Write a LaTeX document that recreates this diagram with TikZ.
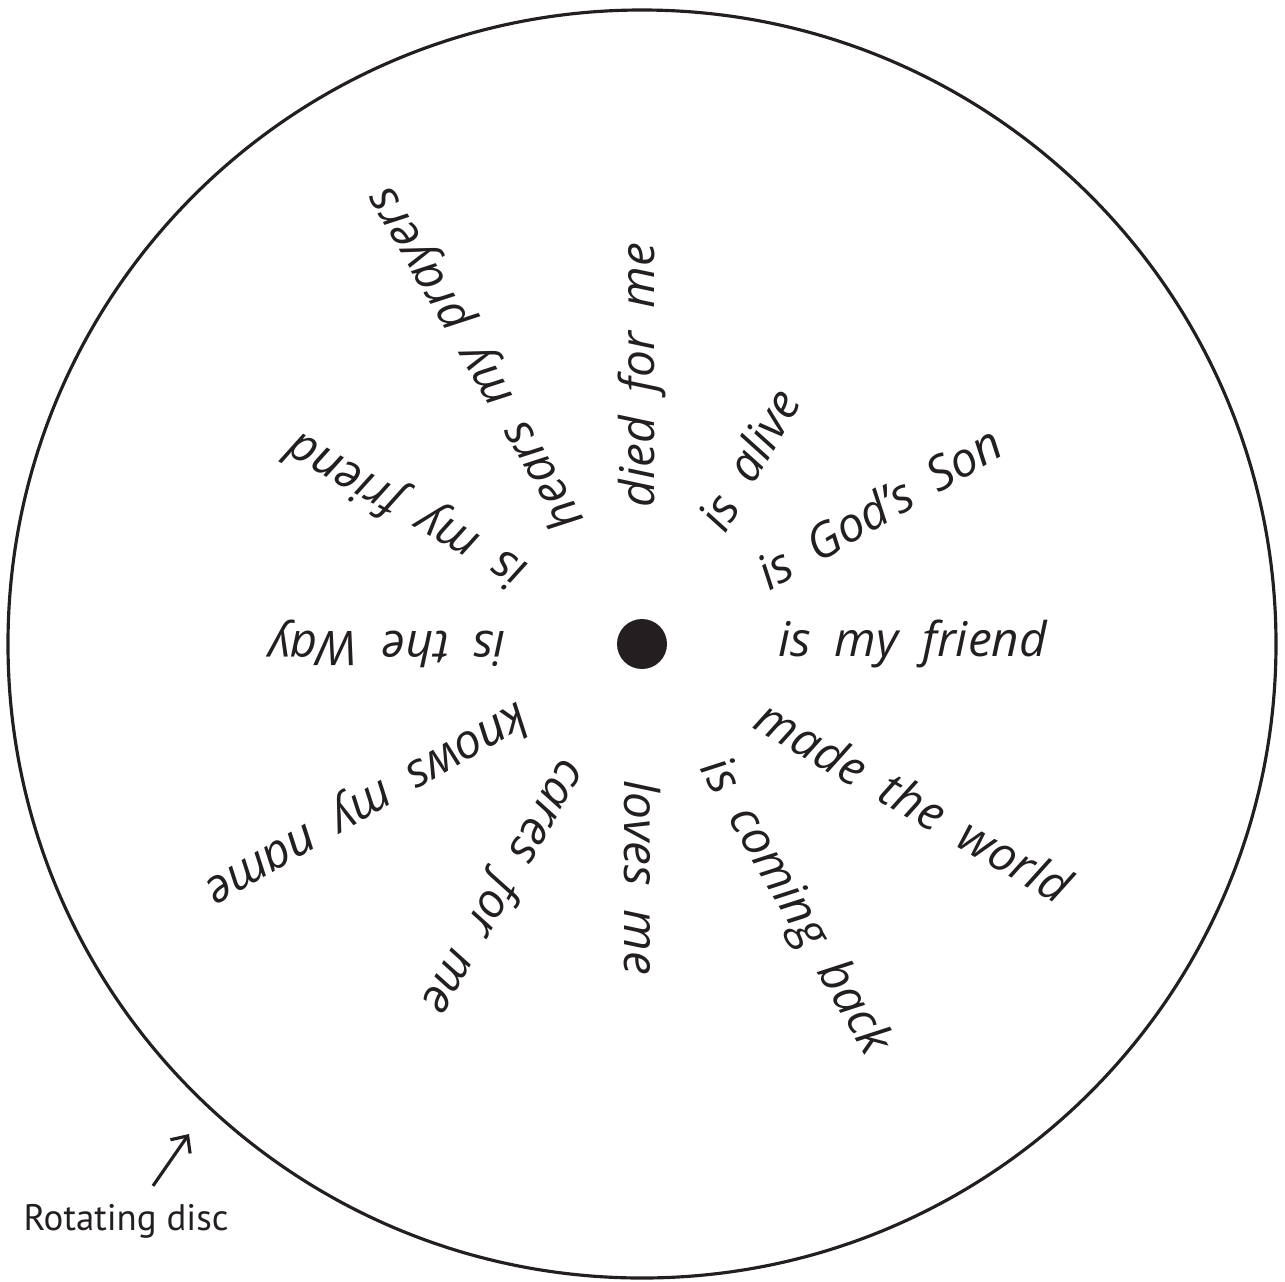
\documentclass[tikz,border=0pt]{standalone}
\usepackage{fontspec}
\setmainfont{Open Sans}[WordSpace=1.9]
\newfontfamily\labelfont{PT Sans}
\usetikzlibrary{arrows.meta}
\definecolor{ink}{HTML}{231F20}

\begin{document}
\begin{tikzpicture}[>={Straight Barb[length=1.3mm, width=2.4mm]},
    disc/.style={draw=ink, line width=0.9pt},
    hub/.style={circle, fill=ink, minimum size=5mm, inner sep=0pt},
    phrase/.style={anchor=west, inner sep=0pt, text=ink,
                   font=\fontsize{13.6}{16}\selectfont\itshape},
    caption/.style={text=ink, font=\labelfont\fontsize{10.5}{12}\selectfont},
    pointer/.style={->, draw=ink, line width=0.9pt}]

  \useasboundingbox (-6.42,-6.37) rectangle (6.43,6.44);

  % ---- the disc and its centre pin
  \draw[disc] (0,0) circle (6.34);
  \node[hub] (pin) at (0,0) {};

  % ---- the twelve phrases, each reading outward from the pin
  \node[phrase, rotate=0]   (p000) at (0:1.36)   {is my friend};
  \node[phrase, rotate=30]  (p030) at (30:1.36)  {is God's Son};
  \node[phrase, rotate=60]  (p060) at (60:1.36)  {is alive};
  \node[phrase, rotate=90]  (p090) at (90:1.36)  {died for me};
  \node[phrase, rotate=120] (p120) at (120:1.36) {hears my prayers};
  \node[phrase, rotate=150] (p150) at (150:1.36) {is my friend};
  \node[phrase, rotate=180] (p180) at (180:1.36) {is the Way};
  \node[phrase, rotate=210] (p210) at (210:1.36) {knows my name};
  \node[phrase, rotate=240] (p240) at (240:1.36) {cares for me};
  \node[phrase, rotate=270] (p270) at (270:1.36) {loves me};
  \node[phrase, rotate=300] (p300) at (300:1.36) {is coming back};
  \node[phrase, rotate=330] (p330) at (330:1.36) {made the world};

  % ---- caption with its arrow
  \node[caption] (name) at (-5.16,-5.77) {Rotating disc};
  \coordinate (rim) at (-4.53,-4.90);
  \draw[pointer, shorten <=2pt] ([xshift=2.3mm]name.north) -- (rim);
\end{tikzpicture}
\end{document}
